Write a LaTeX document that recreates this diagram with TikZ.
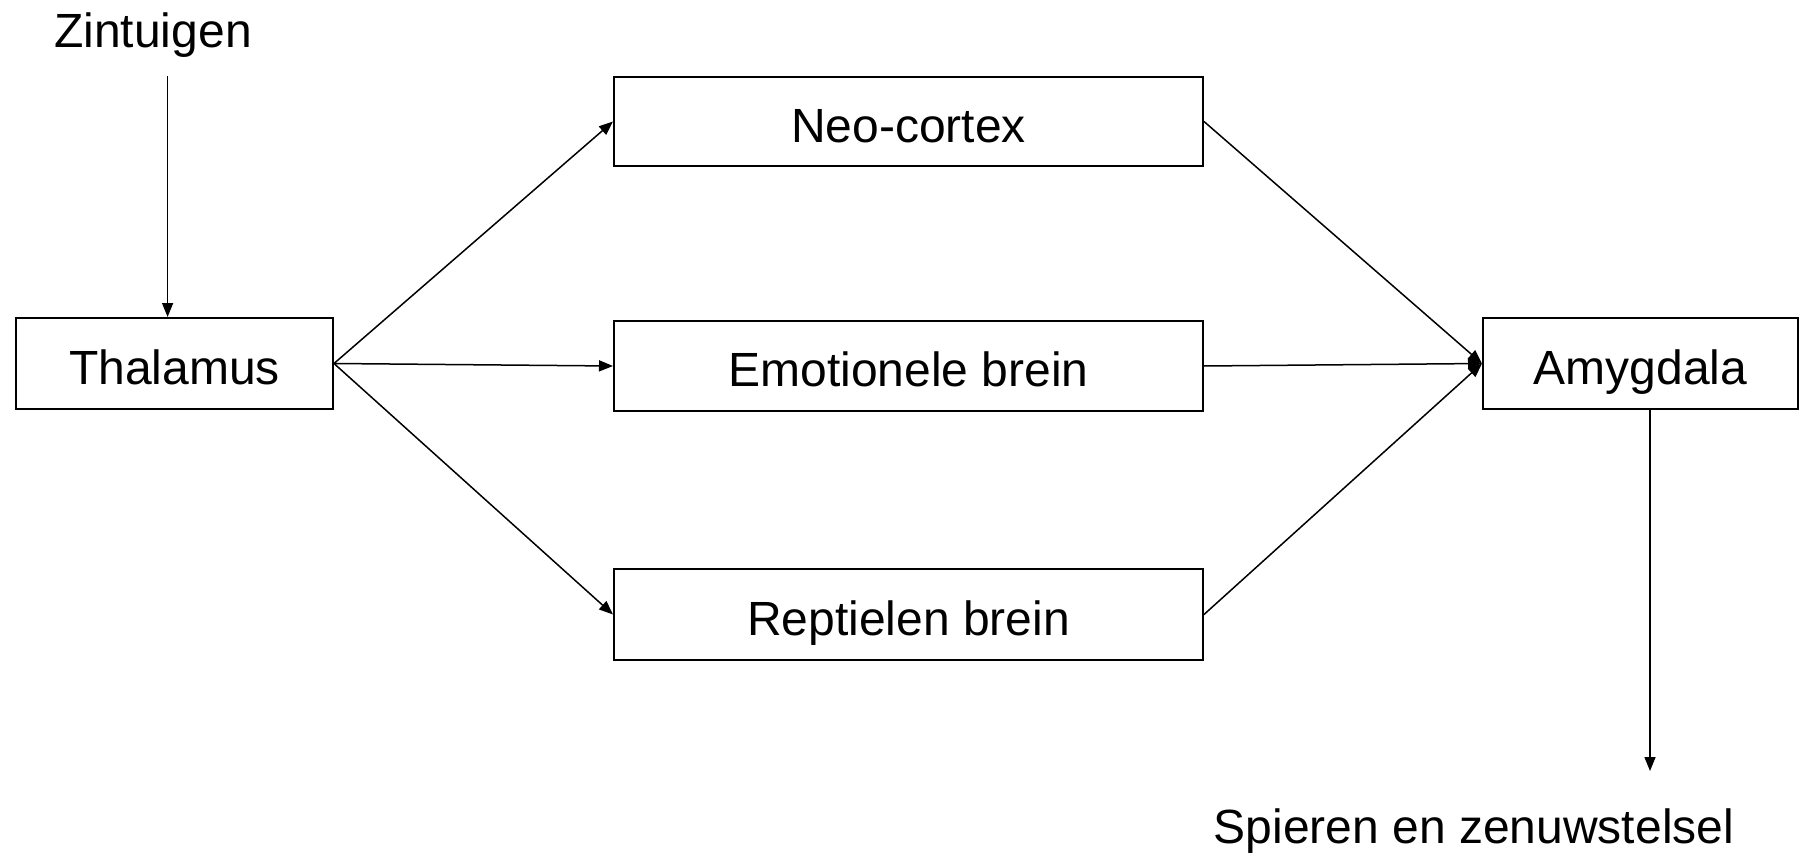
\documentclass[tikz,border=0pt]{standalone}
\usepackage{fontspec}
\setmainfont{Liberation Sans}
\usetikzlibrary{arrows.meta}
\begin{document}
\begin{tikzpicture}[x=0.5pt,y=-0.5pt,
  box/.style={draw,line width=1pt,inner sep=0pt,text height=22pt,text depth=1.5pt,font=\fontsize{24pt}{28pt}\selectfont},
  lbl/.style={inner sep=0pt,font=\fontsize{24pt}{28pt}\selectfont,anchor=base},
  arr/.style={line width=0.75pt,-{Triangle[length=7pt,width=5.5pt]}}]
\useasboundingbox (0,0) rectangle (1800,856);
\node[box,minimum width=158.5pt,minimum height=45.5pt] (thal) at (174.5,363.5) {Thalamus};
\node[box,minimum width=294.5pt,minimum height=44.5pt] (neo) at (908.5,121.5) {Neo-cortex};
\node[box,minimum width=294.5pt,minimum height=45pt] (emo) at (908.5,366) {Emotionele brein};
\node[box,minimum width=294.5pt,minimum height=45.5pt] (rep) at (908.5,614.5) {Reptielen brein};
\node[box,minimum width=157.5pt,minimum height=45.5pt] (amy) at (1640.5,363.5) {Amygdala};
\node[lbl] (zin) at (153,48) {Zintuigen};
\node[lbl] (spi) at (1474,843) {Spieren en zenuwstelsel};
\coordinate (zs) at (167.6,76);
\coordinate (se) at (1650,771);
\draw[arr] (zs) -- (zs |- thal.north);
\draw[arr] (thal.east) -- (neo.west);
\draw[arr] (thal.east) -- (emo.west);
\draw[arr] (thal.east) -- (rep.west);
\draw[arr] (neo.east) -- (amy.west);
\draw[arr] (emo.east) -- (amy.west);
\draw[arr] (rep.east) -- (amy.west);
\draw[arr] (se |- amy.south) -- (se);
\end{tikzpicture}
\end{document}
